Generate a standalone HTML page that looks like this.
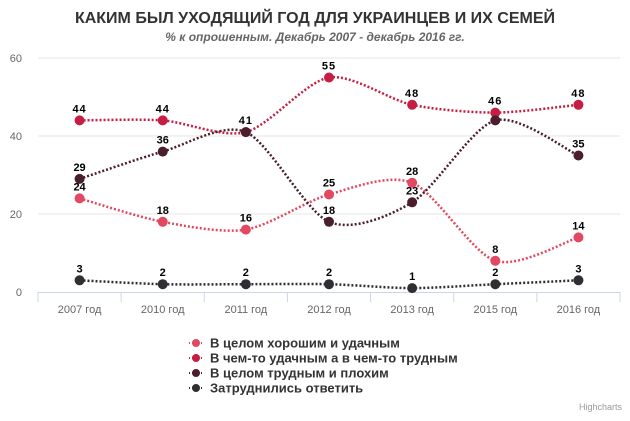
<!DOCTYPE html>
<html><head><meta charset="utf-8"><style>
body{margin:0;background:#fff;}
svg{font-family:"Liberation Sans",sans-serif;}
</style></head><body>
<svg id="c" width="630" height="416" viewBox="0 0 630 416">
<text x="315" y="23" text-anchor="middle" font-size="16" font-weight="bold" fill="#333">КАКИМ БЫЛ УХОДЯЩИЙ ГОД ДЛЯ УКРАИНЦЕВ И ИХ СЕМЕЙ</text>
<text x="315" y="41" text-anchor="middle" font-size="12" font-weight="bold" font-style="italic" fill="#666">% к опрошенным. Декабрь 2007 - декабрь 2016 гг.</text>
<g id="grid"></g><g id="series"></g><g id="labels"></g><g id="legend"></g>
<text x="622" y="410" text-anchor="end" font-size="9" fill="#999">Highcharts</text>
</svg>
<script>
const categories=["2007 год","2010 год","2011 год","2012 год","2013 год","2015 год","2016 год"];
const yTicks=[0,20,40,60];
const good=[24,18,16,25,28,8,14];
const mixed=[44,44,41,55,48,46,48];
const bad=[29,36,41,18,23,44,35];
const unsure=[3,2,2,2,1,2,3];
const seriesNames=["В целом хорошим и удачным","В чем-то удачным а в чем-то трудным","В целом трудным и плохим","Затруднились ответить"];
const colors=["#e2485f","#c41e42","#4a1e2c","#2f2f33"];
const allData=[good,mixed,bad,unsure];
const NS="http://www.w3.org/2000/svg";
const L=38,R=620,T=58,B=292,ymax=60;
const bw=(R-L)/categories.length;
const xs=i=>L+bw*(i+0.5);
const ys=v=>B-(v/ymax)*(B-T);
function mk(tag,attrs,parent,txt){const e=document.createElementNS(NS,tag);for(const k in attrs)e.setAttribute(k,attrs[k]);if(txt!==undefined)e.textContent=txt;parent.appendChild(e);return e;}
const grid=document.getElementById('grid');
yTicks.forEach(t=>{
 if(t>0){const g=mk('line',{x1:L,x2:R,y1:ys(t),y2:ys(t),stroke:'#e6e6e6'},grid);
 
 }
 const lb=mk('text',{x:22,y:ys(t)+4,'text-anchor':'end','font-size':11,fill:'#666'},grid,t);
 
 
});
const ax=mk('line',{x1:L,x2:R,y1:B+0.5,y2:B+0.5,stroke:'#ccd6eb'},grid);


for(let i=0;i<=categories.length;i++){const tk=mk('line',{x1:L+bw*i,x2:L+bw*i,y1:B,y2:B+10,stroke:'#ccd6eb'},grid);
 
 }
categories.forEach((c,i)=>{const t=mk('text',{x:xs(i),y:B+21,'text-anchor':'middle','font-size':11,fill:'#666'},grid,c);
 
 });
function path(d){const p=d.map((v,i)=>[xs(i),ys(v)]);let s='M'+p[0][0]+','+p[0][1];
 for(let i=0;i<p.length-1;i++){const p0=p[Math.max(0,i-1)],p1=p[i],p2=p[i+1],p3=p[Math.min(p.length-1,i+2)];
 const k=0.14;const c1=[p1[0]+(p2[0]-p0[0])*k,p1[1]+(p2[1]-p0[1])*k],c2=[p2[0]-(p3[0]-p1[0])*k,p2[1]-(p3[1]-p1[1])*k];
 s+=` C${c1[0]},${c1[1]} ${c2[0]},${c2[1]} ${p2[0]},${p2[1]}`;}return s;}
const sg=document.getElementById('series'),lg=document.getElementById('labels');
const placed=[];
allData.forEach((d,si)=>{
 const g=mk('g',{},sg);
 
 
 mk('path',{d:path(d),fill:'none',stroke:colors[si],'stroke-width':2.5,'stroke-dasharray':'2,2'},g);
 d.forEach((v,i)=>{const c=mk('circle',{cx:xs(i),cy:ys(v),r:5,fill:colors[si]},g);
  
  
  const ly=ys(v)-8;
  if(placed.some(p=>p[0]===i&&Math.abs(p[1]-ly)<12))return;
  placed.push([i,ly]);
  const t=mk('text',{x:xs(i),y:ly,'text-anchor':'middle','font-size':11,'font-weight':'bold',fill:'#000','letter-spacing':si==1?'1':'0'},lg,v);
  
  });
});
const leg=document.getElementById('legend');
seriesNames.forEach((n,i)=>{const y=343+i*15;
 const g=mk('g',{},leg);
 
 
 mk('line',{x1:189,x2:203,y1:y,y2:y,stroke:colors[i],'stroke-width':2,'stroke-dasharray':'1,2'},g);
 mk('circle',{cx:196,cy:y,r:4,fill:colors[i]},g);
 mk('text',{x:210,y:y+4.5,'font-size':13,'font-weight':'bold',fill:'#333'},g,n);
});
</script>
</body></html>
